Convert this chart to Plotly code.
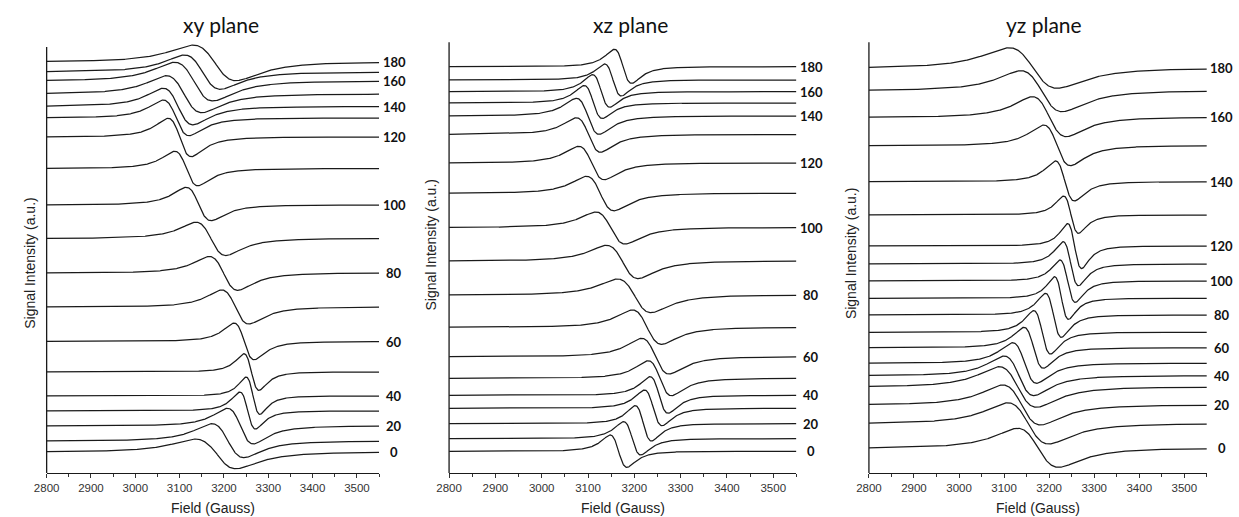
import numpy as np
import plotly.graph_objects as go

# ---------------- data ----------------
angles = [0, 10, 20, 30, 40, 50, 60, 70, 80, 90, 100, 110, 120, 130, 140, 150, 160, 170, 180]
label_angles = [0, 20, 40, 60, 80, 100, 120, 140, 160, 180]
x_ticks = [2800, 2900, 3000, 3100, 3200, 3300, 3400, 3500]

# xy plane
xy_offset = [21, 32, 47, 62, 77, 101, 131.5, 166, 200, 234.5, 268, 304.5, 336, 355, 366.5, 379, 392, 401, 411]
xy_peak_field = [3135, 3173, 3208, 3236, 3250, 3245, 3223, 3195, 3167, 3137, 3115, 3089, 3074, 3063, 3063, 3070, 3089, 3111, 3130]
xy_trough_field = [3227, 3245, 3266, 3271, 3281, 3279, 3268, 3256, 3231, 3204, 3171, 3141, 3126, 3121, 3130, 3150, 3175, 3192, 3227]
xy_peak_height = [13, 17.3, 17.7, 19, 19, 18.3, 18.4, 17, 16.5, 16.3, 17.7, 17.3, 18.7, 18, 18.3, 18.3, 18.7, 17, 17]
xy_trough_depth = [16.7, 16.7, 18, 18, 18.3, 18.3, 18.3, 17, 17.3, 17, 15.7, 17.3, 19.7, 17.7, 18.3, 18.7, 20, 17.3, 18.7]

# xz plane
xz_offset = [21.7, 34.3, 49.3, 64.7, 77.7, 94.7, 116.3, 145.7, 178, 212, 245.5, 279.7, 310, 338.5, 357, 370, 381.3, 393, 406.3]
xz_peak_field = [3148, 3177, 3202, 3222, 3234, 3230, 3216, 3196, 3164, 3140, 3117, 3097, 3080, 3075, 3075, 3092, 3110, 3136, 3157]
xz_trough_field = [3184, 3214, 3237, 3260, 3273, 3280, 3275, 3259, 3236, 3208, 3180, 3156, 3135, 3127, 3124, 3131, 3147, 3172, 3194]
xz_peak_height = [16.3, 17, 18, 18.3, 18.6, 17.6, 18.4, 17.3, 16, 15.7, 15.5, 17, 16.7, 16.7, 17.7, 17.5, 17, 16, 17.4]
xz_trough_depth = [16, 16.3, 17.3, 17.4, 18, 17.4, 17.3, 17, 17.7, 17.6, 16.5, 17.5, 16.7, 17.7, 18.3, 15.5, 15.5, 16, 16.7]

# yz plane
yz_offset = [24.7, 49.3, 68, 86, 97.3, 109.7, 125.3, 140.7, 158, 174.7, 192, 209, 227, 258, 291.3, 327.3, 355.7, 382.3, 404.7]
yz_peak_field = [3130, 3108, 3097, 3089, 3100, 3119, 3144, 3166, 3192, 3212, 3224, 3231, 3241, 3232, 3214, 3188, 3163, 3137, 3111]
yz_trough_field = [3221, 3199, 3181, 3172, 3166, 3172, 3187, 3203, 3227, 3243, 3258, 3265, 3272, 3265, 3256, 3247, 3238, 3229, 3218]
yz_peak_height = [20, 21, 20, 20.3, 19.7, 20.6, 20.4, 21.6, 21.7, 21.6, 21, 22.3, 22.4, 19, 20.7, 20.7, 20.6, 20, 20.6]
yz_trough_depth = [19, 20.3, 20, 20.3, 20, 20, 20.6, 21.7, 22.3, 21, 21.3, 21.7, 22.6, 18.3, 19.3, 20, 19.4, 21, 20]

panel_titles = ["xy plane", "xz plane", "yz plane"]

# ---------------- layout geometry ----------------
W, H = 1239, 517
px_left = [34, 440.7, 865]
px_right = [370, 791.7, 1206.5]
px_axis_top = [47, 42.3, 42.3]
px_bottom = 473
px_dom_top = 28

FIELD = np.arange(2800, 3550.5, 1.0)


def epr_derivative(h, hmax, hmin, a_pos, a_neg):
    h0 = 0.5 * (hmax + hmin)
    g = (hmin - hmax) * np.sqrt(3) / 2.0
    x = (h - h0) / g
    shape = -2 * x / (1 + x ** 2) ** 2 / (9 / (8 * np.sqrt(3)))
    return np.where(x < 0, a_pos, a_neg) * shape


panels = [
    (xy_offset, xy_peak_field, xy_trough_field, xy_peak_height, xy_trough_depth),
    (xz_offset, xz_peak_field, xz_trough_field, xz_peak_height, xz_trough_depth),
    (yz_offset, yz_peak_field, yz_trough_field, yz_peak_height, yz_trough_depth),
]

fig = go.Figure()
annotations = []
shapes = []
yrange_top = px_bottom - px_dom_top

for p, (offs, pk, tr, ph, td) in enumerate(panels):
    sfx = "" if p == 0 else str(p + 1)
    for i, ang in enumerate(angles):
        y = offs[i] + epr_derivative(FIELD, pk[i], tr[i], ph[i], td[i])
        fig.add_trace(go.Scatter(
            x=FIELD, y=y, mode="lines",
            line=dict(color="#1a1a1a", width=1.25),
            xaxis="x" + sfx, yaxis="y" + sfx, showlegend=False, hoverinfo="skip"))
        if ang in label_angles:
            annotations.append(dict(
                x=3550, y=offs[i], xref="x" + sfx, yref="y" + sfx,
                text="<b>%d</b>" % ang, showarrow=False, xanchor="center",
                yanchor="middle", xshift=15,
                font=dict(family="Lato, Open Sans, sans-serif", size=13, color="#111")))

    xdom = [px_left[p] / W, px_right[p] / W]
    ydom = [(H - px_bottom) / H, (H - px_dom_top) / H]
    fig.layout["xaxis" + sfx] = dict(
        domain=xdom, range=[2800, 3550], anchor="y" + sfx,
        tickvals=x_ticks, ticktext=[str(t) for t in x_ticks],
        ticks="outside", ticklen=4, tickwidth=1, tickcolor="#333",
        minor=dict(dtick=50, tick0=2800, ticks="outside", ticklen=3, tickcolor="#333"),
        showline=True, linecolor="#1a1a1a", linewidth=1.3,
        showgrid=False, zeroline=False,
        tickfont=dict(family="Liberation Sans, Arial, sans-serif", size=11.5, color="#333"),
        fixedrange=True)
    fig.layout["yaxis" + sfx] = dict(
        domain=ydom, range=[0, yrange_top], anchor="x" + sfx,
        showline=False, showticklabels=False, ticks="", showgrid=False,
        zeroline=False, fixedrange=True)
    # y axis line (drawn up to the reference's axis top)
    shapes.append(dict(type="line", xref="x" + sfx + " domain", yref="y" + sfx,
                       x0=0, x1=0, y0=0, y1=px_bottom - px_axis_top[p],
                       line=dict(color="#1a1a1a", width=1.3)))
    xc = 0.5 * (px_left[p] + px_right[p])
    # panel title
    annotations.append(dict(
        x=(xc + 8 if p < 2 else xc + 6) / W, y=(H - 25) / H, xref="paper", yref="paper",
        text=panel_titles[p], showarrow=False, xanchor="center", yanchor="middle",
        font=dict(family="Lato, Open Sans, sans-serif", size=21, color="#111")))
    # x axis title
    annotations.append(dict(
        x=xc / W, y=(H - 507.5) / H, xref="paper", yref="paper",
        text="Field (Gauss)", showarrow=False, xanchor="center", yanchor="middle",
        font=dict(family="Liberation Sans, Arial, sans-serif", size=14, color="#222")))
    # y axis title
    ytitle_x = [17, 422, 847][p]
    ytitle_y = [263, 245, 253][p]
    annotations.append(dict(
        x=ytitle_x / W, y=(H - ytitle_y) / H, xref="paper", yref="paper",
        text="Signal Intensity (a.u.)", showarrow=False, textangle=-90,
        xanchor="center", yanchor="middle",
        font=dict(family="Liberation Sans, Arial, sans-serif", size=14, color="#222")))

fig.update_layout(
    width=W, height=H, margin=dict(l=0, r=0, t=0, b=0),
    paper_bgcolor="white", plot_bgcolor="white",
    annotations=annotations, shapes=shapes, showlegend=False)

fig.write_html("out.html", config={"displayModeBar": False})
